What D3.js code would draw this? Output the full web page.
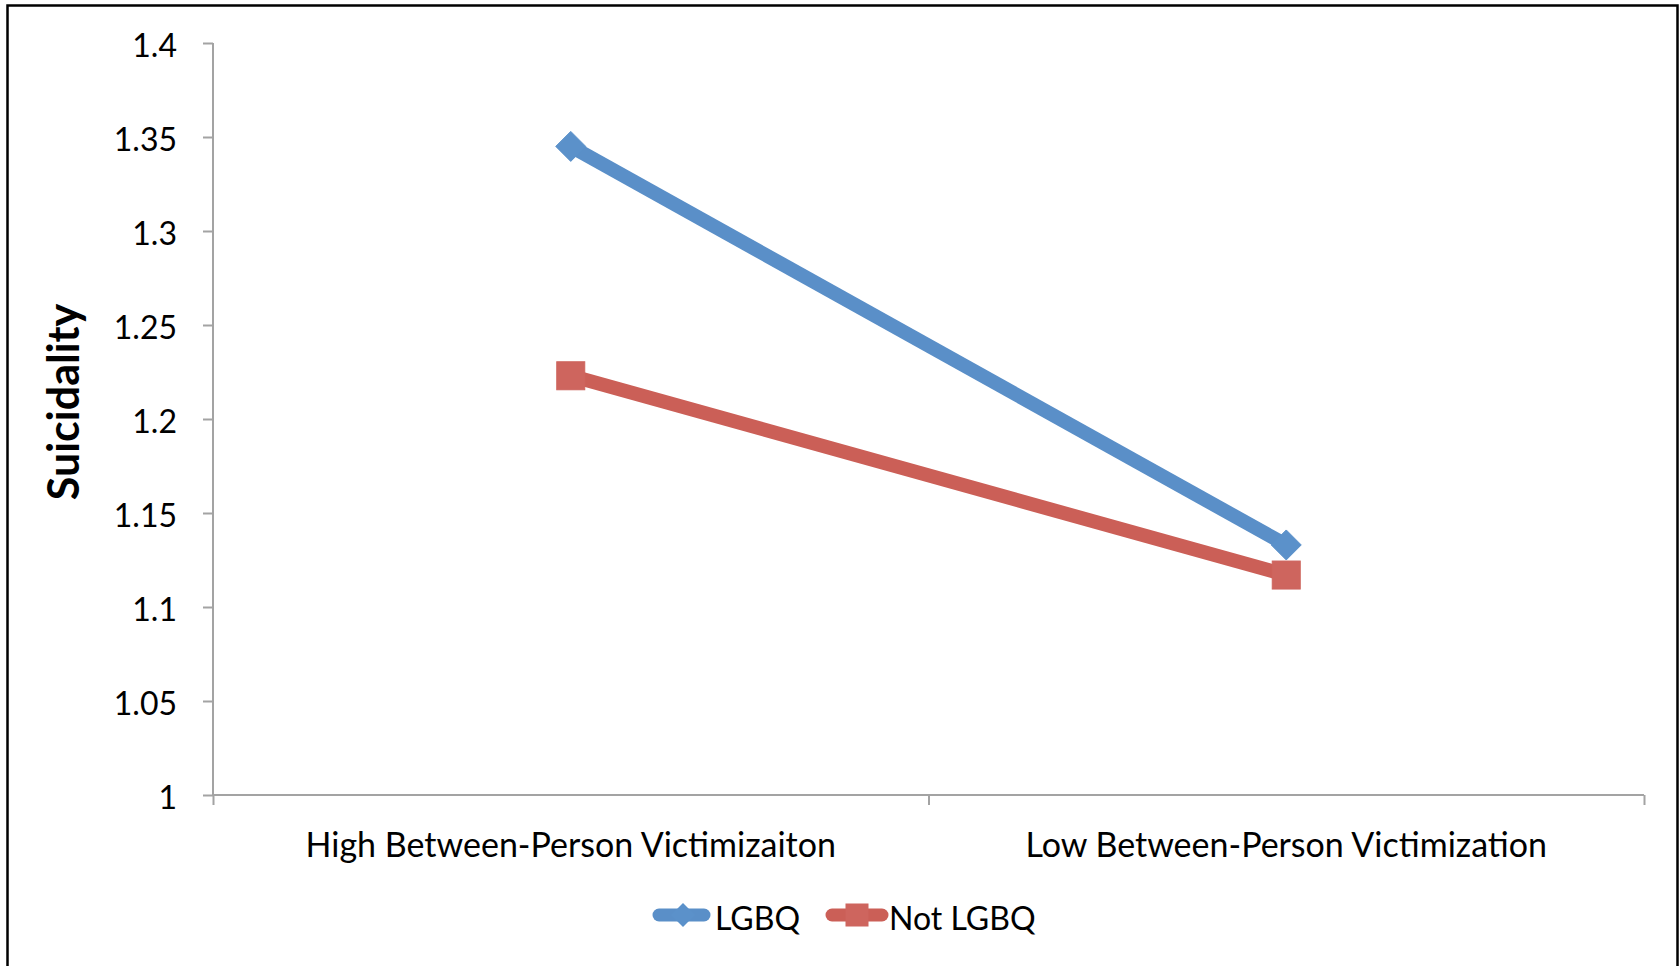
<!DOCTYPE html>
<html>
<head>
<meta charset="utf-8">
<script src="https://cdn.jsdelivr.net/npm/d3@7"></script>
<style>
  html, body { margin: 0; padding: 0; background: #fff; }
  svg { display: block; }
  text { font-family: Lato, "Open Sans", sans-serif; fill: #000; }
</style>
</head>
<body>
<svg id="chart" width="1680" height="966"></svg>
<script>
// Conditions on the horizontal axis
const categories = ["High Between-Person Victimizaiton", "Low Between-Person Victimization"];
// Mean suicidality per group
const seriesNames = ["LGBQ", "Not LGBQ"];
const lgbqValues = [1.345, 1.133];
const notLgbqValues = [1.223, 1.117];
// Vertical axis ticks
const yTicks = [1, 1.05, 1.1, 1.15, 1.2, 1.25, 1.3, 1.35, 1.4];
const yTitle = "Suicidality";

const colors = { "LGBQ": "#5a8fc8", "Not LGBQ": "#cb5f57" };
const markerFill = { "LGBQ": "#5b91ca", "Not LGBQ": "#ce655e" };

const svg = d3.select("#chart");

// Outer frame
svg.append("rect")
  .attr("x", 7.5).attr("y", 5.5)
  .attr("width", 1670).attr("height", 980)
  .attr("fill", "none").attr("stroke", "#000").attr("stroke-width", 2.5);

const plot = { left: 213, right: 1644, top: 43, bottom: 795 };

const y = d3.scaleLinear().domain([1, 1.4]).range([plot.bottom, plot.top]);
const x = d3.scalePoint().domain(categories).range([plot.left, plot.right]).padding(0.5);
const xEdges = d3.scaleLinear().domain([0, categories.length]).range([plot.left, plot.right]);

const axisColor = "#a3a3a3";

// Y axis
const yAxis = svg.append("g")
  .attr("transform", `translate(${plot.left},0)`)
  .call(d3.axisLeft(y).tickValues(yTicks).tickSize(10).tickPadding(26)
    .tickFormat(d => String(+d.toFixed(2))));
yAxis.select(".domain").attr("stroke", axisColor).attr("stroke-width", 2)
  .attr("d", `M0,${plot.top}V${plot.bottom}`);
yAxis.selectAll(".tick line").attr("stroke", axisColor).attr("stroke-width", 2);
yAxis.selectAll(".tick text")
  .attr("font-family", "Lato, 'Open Sans', sans-serif")
  .attr("font-size", 32).attr("fill", "#000").attr("dy", "0.42em");

// X axis: category boundaries carry the ticks
const xAxis = svg.append("g")
  .attr("transform", `translate(0,${plot.bottom})`)
  .call(d3.axisBottom(xEdges).tickValues(d3.range(categories.length + 1)).tickSize(10).tickFormat(""));
xAxis.select(".domain").attr("stroke", axisColor).attr("stroke-width", 2)
  .attr("d", `M${plot.left},0H${plot.right}`);
xAxis.selectAll(".tick line").attr("stroke", axisColor).attr("stroke-width", 2);

svg.append("g").selectAll("text")
  .data(categories)
  .join("text")
  .attr("x", d => x(d))
  .attr("y", 857)
  .attr("text-anchor", "middle")
  .attr("font-size", 34)
  .text(d => d);

// Y axis title
svg.append("text")
  .attr("transform", `translate(79,402) rotate(-90)`)
  .attr("text-anchor", "middle")
  .attr("font-size", 43)
  .attr("font-weight", "bold")
  .text(yTitle);

// Series
const series = [
  { name: seriesNames[0], values: lgbqValues, marker: "diamond" },
  { name: seriesNames[1], values: notLgbqValues, marker: "square" }
];

const line = d3.line().x((d, i) => x(categories[i])).y(d => y(d));

const diamondPath = r => `M0,${-r}L${r},0L0,${r}L${-r},0Z`;

series.forEach(s => {
  svg.append("path")
    .datum(s.values)
    .attr("d", line)
    .attr("fill", "none")
    .attr("stroke", colors[s.name])
    .attr("stroke-width", 14)
    .attr("stroke-linejoin", "round");
});

series.forEach(s => {
  const g = svg.append("g");
  s.values.forEach((v, i) => {
    const cx = x(categories[i]), cy = y(v);
    if (s.marker === "diamond") {
      g.append("path")
        .attr("transform", `translate(${cx},${cy})`)
        .attr("d", diamondPath(15))
        .attr("fill", markerFill[s.name])
        .attr("stroke", markerFill[s.name]).attr("stroke-width", 1);
    } else {
      g.append("rect")
        .attr("x", cx - 14).attr("y", cy - 14)
        .attr("width", 28).attr("height", 28)
        .attr("fill", markerFill[s.name])
        .attr("stroke", markerFill[s.name]).attr("stroke-width", 1);
    }
  });
});

// Legend
const legendItems = [
  { name: seriesNames[0], marker: "diamond", x0: 659, x1: 704, mx: 683, tx: 715 },
  { name: seriesNames[1], marker: "square", x0: 832, x1: 882, mx: 857, tx: 889 }
];
const legendY = 915;
const lg = svg.append("g");
legendItems.forEach(it => {
  lg.append("line")
    .attr("x1", it.x0).attr("x2", it.x1)
    .attr("y1", legendY).attr("y2", legendY)
    .attr("stroke", colors[it.name]).attr("stroke-width", 13)
    .attr("stroke-linecap", "round");
  if (it.marker === "diamond") {
    lg.append("path")
      .attr("transform", `translate(${it.mx},${legendY})`)
      .attr("d", diamondPath(12))
      .attr("fill", markerFill[it.name]);
  } else {
    lg.append("rect")
      .attr("x", it.mx - 11.5).attr("y", legendY - 11.5)
      .attr("width", 23).attr("height", 23)
      .attr("fill", markerFill[it.name]);
  }
  lg.append("text")
    .attr("x", it.tx).attr("y", 930)
    .attr("font-size", 32)
    .text(it.name);
});
</script>
</body>
</html>
